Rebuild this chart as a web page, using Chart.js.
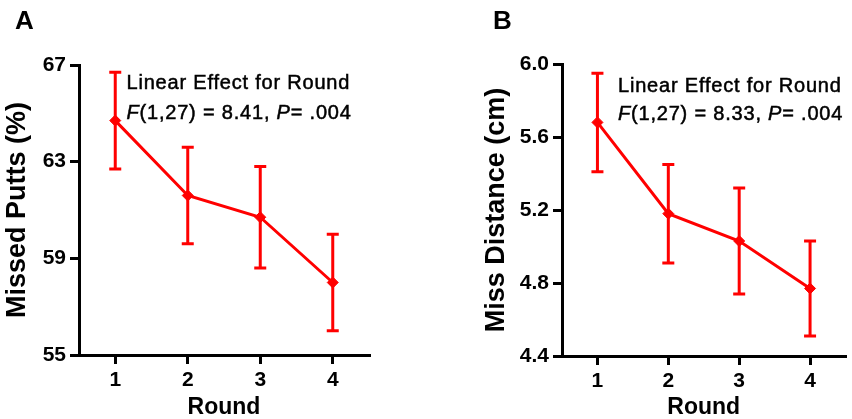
<!DOCTYPE html>
<html><head><meta charset="utf-8">
<script src="https://cdn.jsdelivr.net/npm/chart.js@4"></script>
<style>
html,body{margin:0;padding:0;background:#fff;width:852px;height:419px;overflow:hidden}
.p{position:absolute;top:0;width:426px;height:419px}
</style></head><body>
<div class="p" style="left:0"><canvas id="a" width="426" height="419"></canvas></div>
<div class="p" style="left:426px"><canvas id="b" width="426" height="419"></canvas></div>
<script>
// ---- data ----
const rounds = ['1', '2', '3', '4'];
const missedPutts = [64.7, 61.6, 60.7, 58.0];
const missedPuttsErr = [2.0, 2.0, 2.1, 2.0];
const missDistance = [5.68, 5.18, 5.03, 4.77];
const missDistanceErr = [0.27, 0.27, 0.29, 0.26];
const yTicksA = [55, 59, 63, 67];
const yTicksB = [4.4, 4.8, 5.2, 5.6, 6.0];
const panelLabels = ['A', 'B'];
const yTitles = ['Missed Putts (%)', 'Miss Distance (cm)'];
const xTitle = 'Round';
const annoHead = 'Linear Effect for Round';
const statsA = [['F', true], ['(1,27) = 8.41, ', false], ['P', true], ['= .004', false]];
const statsB = [['F', true], ['(1,27) = 8.33, ', false], ['P', true], ['= .004', false]];

const FAM = '"Liberation Sans", Arial, Helvetica, sans-serif';
const RED = '#ff0000';

const errorBars = {
  id: 'errorBars',
  beforeDatasetsDraw(chart) {
    const ctx = chart.ctx;
    const ys = chart.scales.y;
    const ds = chart.data.datasets[0];
    const meta = chart.getDatasetMeta(0);
    ctx.save();
    ctx.strokeStyle = RED;
    ctx.lineWidth = 3;
    meta.data.forEach((pt, i) => {
      const v = ds.data[i], e = ds.err[i];
      const x = pt.x;
      const yt = ys.getPixelForValue(v + e), yb = ys.getPixelForValue(v - e);
      ctx.beginPath();
      ctx.moveTo(x, yt); ctx.lineTo(x, yb);
      ctx.moveTo(x - 6, yt); ctx.lineTo(x + 6, yt);
      ctx.moveTo(x - 6, yb); ctx.lineTo(x + 6, yb);
      ctx.stroke();
    });
    ctx.restore();
  }
};

function annotation(label, labelX, textX, base1, base2, segs) {
  return {
    id: 'anno',
    afterDraw(chart) {
      const ctx = chart.ctx;
      ctx.save();
      ctx.fillStyle = '#000';
      ctx.strokeStyle = '#000';
      ctx.textBaseline = 'alphabetic';
      ctx.textAlign = 'left';
      ctx.font = 'bold 26px ' + FAM;
      ctx.fillText(label, labelX, 29);
      try { ctx.letterSpacing = '0.8px'; } catch (e) {}
      ctx.lineWidth = 0.5;
      ctx.font = '20px ' + FAM;
      ctx.fillText(annoHead, textX, base1);
      ctx.strokeText(annoHead, textX, base1);
      let x = textX;
      segs.forEach(([t, it]) => {
        ctx.font = (it ? 'italic ' : '') + '20px ' + FAM;
        ctx.fillText(t, x, base2);
        ctx.strokeText(t, x, base2);
        x += ctx.measureText(t).width;
      });
      ctx.restore();
    }
  };
}

function makeChart(id, values, err, ticks, yTitle, g, fmt, anno) {
  return new Chart(document.getElementById(id), {
    type: 'line',
    data: {
      labels: rounds,
      datasets: [{
        data: values, err: err,
        borderColor: RED, backgroundColor: RED, borderWidth: 3,
        pointStyle: 'rectRot', pointRadius: 5.5, pointBorderWidth: 1,
        pointBackgroundColor: RED, pointBorderColor: RED, tension: 0, clip: false
      }]
    },
    options: {
      responsive: false, animation: false, devicePixelRatio: 1,
      layout: { padding: { top: g.top, right: g.right, left: 0, bottom: 0 } },
      plugins: { legend: { display: false }, tooltip: { enabled: false } },
      scales: {
        x: {
          offset: true,
          grid: { display: true, drawOnChartArea: false, color: '#000', lineWidth: 3, tickLength: 9, offset: false },
          border: { display: true, color: '#000', width: 3 },
          ticks: { color: '#000', font: { family: FAM, size: 21, weight: 'bold' }, padding: 4, maxRotation: 0 },
          title: { display: true, text: xTitle, color: '#000', font: { family: FAM, size: 23, weight: 'bold', lineHeight: 1 }, padding: 0 },
          afterFit(s) { s.height = g.xh; }
        },
        y: {
          min: ticks[0], max: ticks[ticks.length - 1],
          afterBuildTicks(s) { s.ticks = ticks.map(v => ({ value: v })); },
          grid: { display: true, drawOnChartArea: false, color: '#000', lineWidth: 3, tickLength: 9 },
          border: { display: true, color: '#000', width: 3 },
          ticks: { color: '#000', font: { family: FAM, size: 21, weight: 'bold' }, padding: 4, callback: fmt },
          title: { display: true, text: yTitle, color: '#000', font: { family: FAM, size: 27, weight: 'bold', lineHeight: 1.2 }, padding: { top: g.tpad, bottom: 0 } },
          afterFit(s) { s.width = g.yw; }
        }
      }
    },
    plugins: [errorBars, anno]
  });
}

makeChart('a', missedPutts, missedPuttsErr, yTicksA, yTitles[0],
  { top: 65, right: 57, xh: 64, yw: 79, tpad: 1.3 },
  v => String(v),
  annotation(panelLabels[0], 15, 126.5, 89, 118.5, statsA));

makeChart('b', missDistance, missDistanceErr, yTicksB, yTitles[1],
  { top: 64, right: 0, xh: 63, yw: 136, tpad: 54.5 },
  v => Number(v).toFixed(1),
  annotation(panelLabels[1], 67, 192, 91.5, 120, statsB));
</script>
</body></html>
